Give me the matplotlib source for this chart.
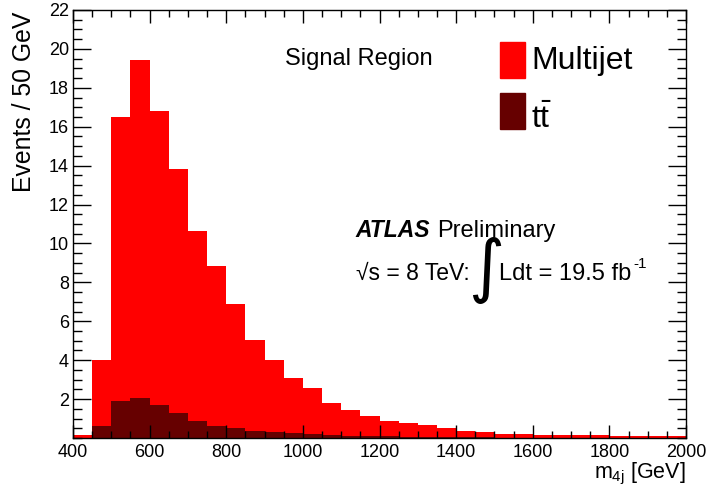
import numpy as np
import matplotlib
matplotlib.use('Agg')
import matplotlib.pyplot as plt
from matplotlib.ticker import MultipleLocator

### Fonts: Helvetica-like look
plt.rcParams['font.family'] = ['Liberation Sans', 'DejaVu Sans']
plt.rcParams['mathtext.fontset'] = 'custom'
plt.rcParams['mathtext.rm'] = 'Liberation Sans'
plt.rcParams['mathtext.it'] = 'Liberation Sans'
plt.rcParams['mathtext.bf'] = 'Liberation Sans:bold'

### Data (events per 50 GeV bin, 400 - 2000 GeV)
bin_edges = np.arange(400, 2001, 50)
ttbar = [0.00, 0.63, 1.88, 2.05, 1.71, 1.27, 0.87, 0.63, 0.50, 0.34, 0.29,
         0.24, 0.19, 0.15, 0.12, 0.10, 0.08, 0.06, 0.05, 0.04, 0.03, 0.03,
         0.02, 0.02, 0.02, 0.01, 0.01, 0.01, 0.01, 0.01, 0.01, 0.01]
multijet = [0.16, 3.37, 14.60, 17.39, 15.09, 12.56, 9.76, 8.19, 6.37, 4.70,
            3.74, 2.82, 2.37, 1.66, 1.33, 1.04, 0.81, 0.71, 0.60, 0.47, 0.33,
            0.26, 0.20, 0.17, 0.13, 0.13, 0.12, 0.12, 0.08, 0.08, 0.08, 0.08]

c_multijet = '#ff0000'
c_ttbar = '#660000'

W, H = 706, 488
fig = plt.figure(figsize=(W/100, H/100), dpi=100)
ax = fig.add_axes([73/W, 1-438/H, (686-73)/W, (438-10)/H])

### Stacked histogram
left = bin_edges[:-1]
ax.bar(left, ttbar, width=50, align='edge', color=c_ttbar, linewidth=0)
ax.bar(left, multijet, width=50, align='edge', bottom=ttbar,
       color=c_multijet, linewidth=0)

ax.set_xlim(400, 2000)
ax.set_ylim(0, 22)
ax.xaxis.set_major_locator(MultipleLocator(200))
ax.xaxis.set_minor_locator(MultipleLocator(50))
ax.set_yticks(np.arange(2, 23, 2))
ax.yaxis.set_minor_locator(MultipleLocator(0.5))
ax.tick_params(axis='both', which='both', direction='in', top=True,
               right=True, labelsize=13, width=1.0)
ax.tick_params(axis='x', which='major', length=9.4, pad=4)
ax.tick_params(axis='x', which='minor', length=4.7)
ax.tick_params(axis='y', which='major', length=13, pad=3)
ax.tick_params(axis='y', which='minor', length=6.5)
for s in ax.spines.values():
    s.set_linewidth(1.0)

def fx(px):
    return px / W

def fy(py):
    return 1 - py / H

### Axis titles
fig.text(fx(686), fy(478), r'$m_{4j}$ [GeV]', ha='right', va='baseline',
         fontsize=15.5)
fig.text(fx(24), fy(12), 'Events / 50 GeV', rotation=90, ha='center',
         va='top', fontsize=17.8)

### Labels
fig.text(fx(285), fy(65), 'Signal Region', ha='left', va='baseline',
         fontsize=17)
fig.text(fx(355), fy(237), 'ATLAS', ha='left', va='baseline', fontsize=16.5,
         fontweight='bold', fontstyle='italic')
fig.text(fx(437), fy(237), 'Preliminary', ha='left', va='baseline',
         fontsize=17)
fig.text(fx(356), fy(280), '\u221as = 8 TeV:', ha='left', va='baseline',
         fontsize=16.5)
fig.text(fx(486), fy(270), '\u222b', ha='center', va='center', fontsize=50,
         family=['DejaVu Sans'])
fig.text(fx(499), fy(280), 'Ldt = 19.5 fb', ha='left', va='baseline',
         fontsize=17)
fig.text(fx(633), fy(268), '-1', ha='left', va='baseline', fontsize=11)

### Legend
fig.patches.append(plt.Rectangle((fx(500), fy(78)), 25/W, 36/H,
                                 transform=fig.transFigure, color=c_multijet))
fig.patches.append(plt.Rectangle((fx(500), fy(129)), 25/W, 36/H,
                                 transform=fig.transFigure, color=c_ttbar))
fig.text(fx(531), fy(69), 'Multijet', ha='left', va='baseline', fontsize=23)
fig.text(fx(531), fy(128), r'$t\bar{t}$', ha='left', va='baseline',
         fontsize=23)

fig.savefig('out.png', dpi=100)
